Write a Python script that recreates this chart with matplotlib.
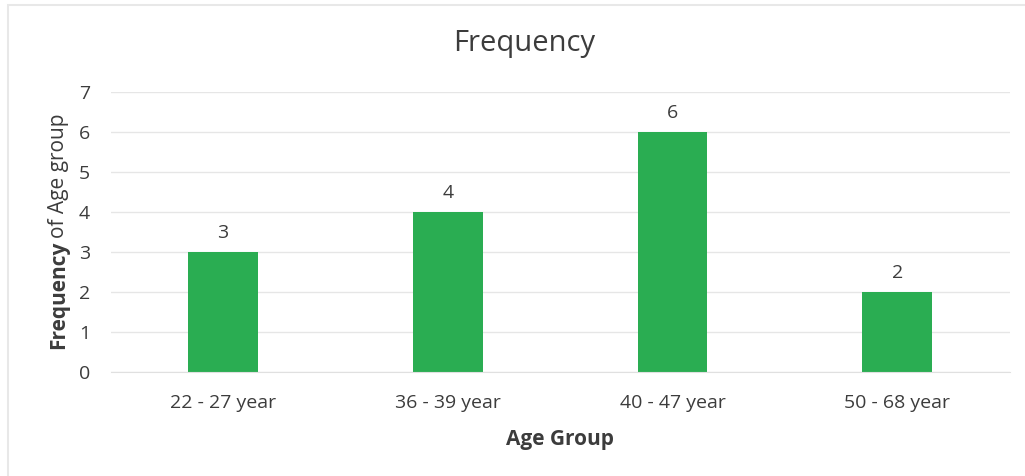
import matplotlib.pyplot as plt
from matplotlib.patches import Rectangle

age_groups = ['22 - 27 year', '36 - 39 year', '40 - 47 year', '50 - 68 year']
frequency = [3, 4, 6, 2]

bar_color = '#2AAD52'
text_color = '#3C3C3C'

plt.rcParams['font.family'] = ['Open Sans', 'DejaVu Sans']

fig = plt.figure(figsize=(10.25, 4.76), dpi=100)
ax = fig.add_axes([0.108, 0.2185, 0.877, 0.588])

x = range(len(age_groups))
bars = ax.bar(x, frequency, width=0.31, color=bar_color, zorder=2)

# value labels over each bar
for rect, val in zip(bars, frequency):
    ax.annotate(str(val), (rect.get_x() + rect.get_width() / 2, val),
                xytext=(0, 7), textcoords='offset points',
                ha='center', va='bottom', fontsize=14, color=text_color)

ax.set_xlim(-0.5, len(age_groups) - 0.5)
ax.set_ylim(0, 7)
ax.set_yticks(range(8))
ax.set_xticks(list(x))
ax.set_xticklabels(age_groups)
ax.tick_params(axis='both', length=0, labelsize=14, labelcolor=text_color)
ax.tick_params(axis='x', pad=16)
ax.tick_params(axis='y', pad=15)

ax.grid(axis='y', color='#E6E6E6', linewidth=1, zorder=0)
for side in ['top', 'right', 'left']:
    ax.spines[side].set_visible(False)
ax.spines['bottom'].set_color('#E0E0E0')

ax.set_xlabel('Age Group', fontsize=15, fontweight='bold', color=text_color, labelpad=12)
fig.text(0.511, 0.908, 'Frequency', fontsize=21, color=text_color,
         ha='center', va='center')

# y label: bold first word, regular rest
fig.text(0.057, 0.494, 'Frequency', rotation=90, fontsize=15, fontweight='bold',
         color=text_color, ha='center', va='top')
fig.text(0.057, 0.499, 'of Age group', rotation=90, fontsize=15,
         color=text_color, ha='center', va='bottom')

# chart area border
fig.patches.append(Rectangle((0.008, -0.01), 1.1, 1.0, transform=fig.transFigure,
                             fill=False, edgecolor='#E8E8E8', linewidth=1.5))

fig.savefig('out.png', dpi=100)
